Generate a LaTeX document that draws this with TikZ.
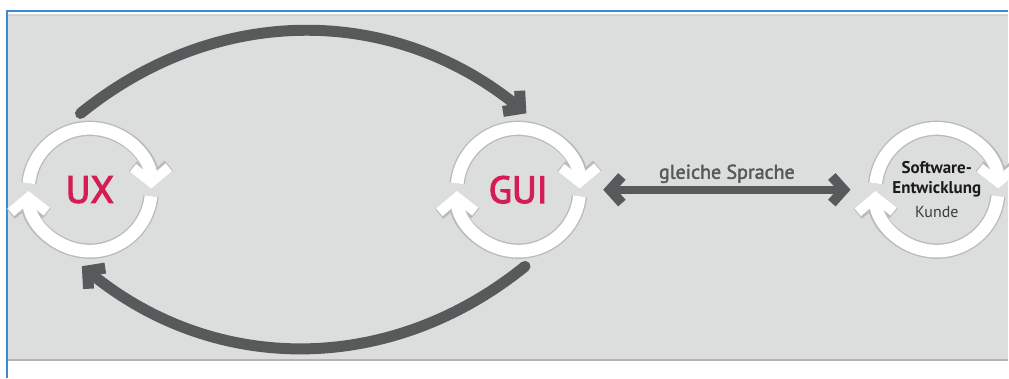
\documentclass[tikz,border=0pt]{standalone}
\usepackage{fontspec}
\setmainfont{PT Sans}
\usetikzlibrary{arrows.meta}
\definecolor{bggray}{HTML}{DCDDDD}
\definecolor{arrgray}{HTML}{58595B}
\definecolor{crim}{HTML}{D41D53}
\definecolor{frameblue}{HTML}{3A8CD3}
\definecolor{ringshade}{HTML}{B9BABB}
\definecolor{frametop}{HTML}{CBCCCC}
\definecolor{framebottom}{HTML}{B2B3B4}
\definecolor{swtext}{HTML}{1B1B1B}
\definecolor{kundetext}{HTML}{3C3C3C}
\begin{document}
\begin{tikzpicture}[x=0.75pt,y=0.75pt,
  ringnode/.style={circle, minimum size=115.5pt, inner sep=0pt, outer sep=0pt, align=center},
  ringwhite/.style={draw=white, line width=9.5pt, -{Straight Barb[length=11pt,width=27pt,line width=7.5pt]}},
  ringshadow/.style={draw=ringshade, line width=11.5pt, -{Straight Barb[length=11pt,width=27pt,line width=9.5pt]}},
  bigarc/.style={draw=arrgray, line width=8.25pt, line cap=round, -{Straight Barb[length=9pt,width=20pt]}},
  dblarrow/.style={draw=arrgray, line width=6pt, {Straight Barb[length=9pt,width=20pt,line width=7.5pt]}-{Straight Barb[length=9pt,width=20pt,line width=7.5pt]}},
  bigtext/.style={text=crim, font=\addfontfeature{FakeBold=3}\fontsize{28.5}{30}\selectfont},
  pics/cyc/.style={code={
    \draw[ringshadow] (174:61.5) arc[start angle=174,end angle=1,radius=61.5];
    \draw[ringshadow] (-6:61.5) arc[start angle=-6,end angle=-179,radius=61.5];
    \draw[ringwhite] (174:61.5) arc[start angle=174,end angle=1,radius=61.5];
    \draw[ringwhite] (-6:61.5) arc[start angle=-6,end angle=-179,radius=61.5];
  }}
]
% frame and background
\fill[white] (0,0) rectangle (1009,378);
\fill[bggray] (8,17) rectangle (1009,364);
\draw[frametop, line width=1.2pt] (8,362.5) -- (1009,362.5);
\draw[framebottom, line width=2pt] (8,17.5) -- (1009,17.5);
\draw[frameblue, line width=1.5pt] (7,0) -- (7,367) -- (1009,367);
\useasboundingbox (0,0) rectangle (1009,378);

% cycle nodes
\node[ringnode, bigtext] (ux) at (90,188) {UX};
\node[ringnode, bigtext] (gui) at (519,188) {GUI};
\node[ringnode, text=swtext, font=\bfseries\fontsize{12.75}{15}\selectfont] (sw) at (938,188)
  {Software-\\Entwicklung\\[3pt]{\mdseries\color{kundetext}\fontsize{12}{14}\selectfont Kunde}};
\pic at (ux.center) {cyc};
\pic at (gui.center) {cyc};
\pic at (sw.center) {cyc};

% connectors
\draw[bigarc] (ux.97) to[bend left=39] (gui.84);
\draw[bigarc] (gui.-85) to[bend left=39] (ux.-96);
\draw[dblarrow] ([xshift=6pt]gui.east) -- node[midway, anchor=base, yshift=8.25pt, inner sep=0pt, text=arrgray, font=\addfontfeature{FakeBold=2}\fontsize{15}{16}\selectfont] (lbl) {gleiche Sprache} ([xshift=-7pt]sw.west);
\end{tikzpicture}
\end{document}
